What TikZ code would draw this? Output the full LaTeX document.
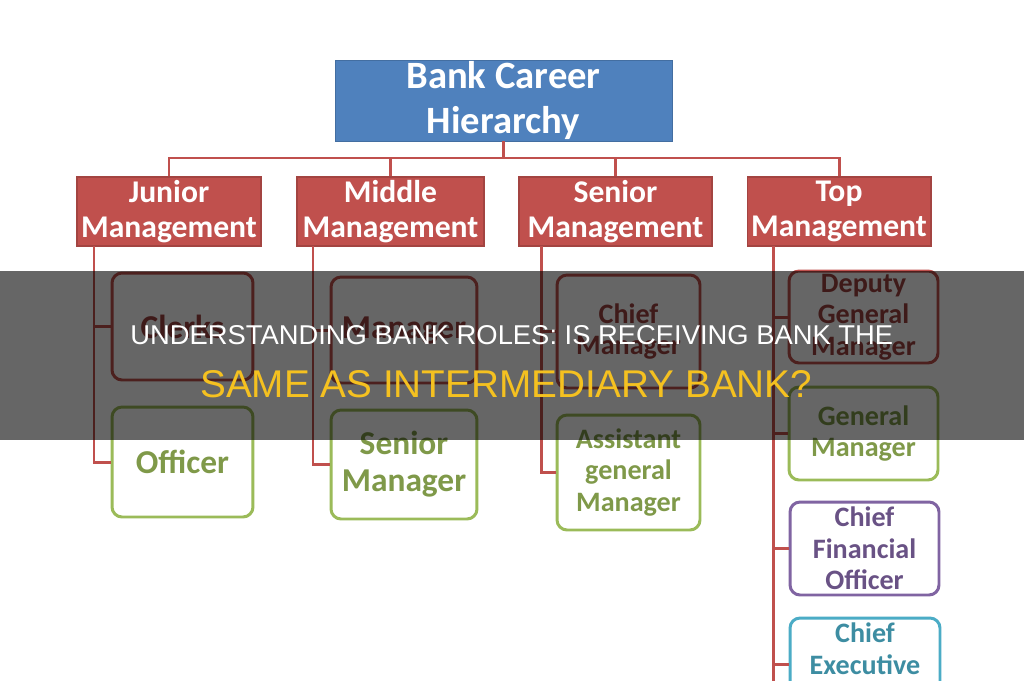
\documentclass[tikz,border=0pt]{standalone}
\usepackage{fontspec}
\setmainfont{Carlito}
\newfontfamily\bannerfont{Liberation Sans}
\usepackage{tikz}
\usetikzlibrary{positioning}
\definecolor{chartblue}{RGB}{79, 129, 189}
\definecolor{chartred}{RGB}{192, 80, 77}
\definecolor{leafgreen}{RGB}{155, 187, 89}
\definecolor{leafpurple}{RGB}{128, 100, 162}
\definecolor{leafteal}{RGB}{75, 172, 198}
\definecolor{bannergold}{RGB}{245, 193, 32}

\begin{document}
\begin{tikzpicture}[x=0.02cm, y=-0.02cm,
    link/.style={draw=chartred, line width=1.7pt},
    level/.style={fill=chartred, draw=chartred!85!black, line width=0.6pt, text=white,
        font=\fontsize{18}{20}\selectfont\bfseries, align=center, inner sep=0pt,
        minimum height=1.38cm},
    role/.style={draw=#1, text=#1!82!black, fill=white, line width=1.7pt,
        rounded corners=0.2cm, align=center, inner sep=0pt},
    bigrole/.style={font=\fontsize{19}{21}\selectfont\bfseries},
    smallrole/.style={font=\fontsize{16}{18}\selectfont\bfseries}]
    \clip (0,0) rectangle (1024,680);
    \fill[white] (0,0) rectangle (1024,680);

    % top of the tree
    \node[fill=chartblue, draw=chartblue!85!black, text=white, align=center, inner sep=0pt,
        font=\fontsize{22}{26}\selectfont\bfseries, minimum width=6.74cm, minimum height=1.62cm]
        (title) at (503.5,100.5) {Bank Career\\Hierarchy};
    \node[level, minimum width=3.68cm] (junior) at (169,211.5) {Junior\\Management};
    \node[level, minimum width=3.74cm] (middle) at (390.5,211.5) {Middle\\Management};
    \node[level, minimum width=3.86cm] (senior) at (615.5,211.5) {Senior\\Management};
    \node[level, minimum width=3.68cm] (top) at (839,211.5) {Top\\Management};
    \coordinate (bus) at (503.5,158);
    \draw[link] (title) -- (bus);
    \foreach \lvl in {junior, middle, senior, top} {
        \draw[link] (bus) -| (\lvl.north);
    }

    % roles under each level
    \node[role=chartred, bigrole, minimum width=2.82cm, minimum height=2.14cm]
        (clerks) at (182.5,326.5) {Clerks};
    \node[role=leafgreen, bigrole, minimum width=2.82cm, minimum height=2.2cm]
        (officer) at (182.5,462) {Officer};
    \node[role=chartred, bigrole, minimum width=2.92cm, minimum height=2.12cm]
        (manager) at (404,330) {Manager};
    \node[role=leafgreen, bigrole, minimum width=2.92cm, minimum height=2.18cm]
        (srmanager) at (404,464.5) {Senior\\Manager};
    \node[role=chartred, smallrole, minimum width=2.86cm, minimum height=2.26cm]
        (chiefmgr) at (628.5,331.5) {Chief\\Manager};
    \node[role=leafgreen, smallrole, minimum width=2.86cm, minimum height=2.3cm]
        (agm) at (628.5,472.5) {Assistant\\general\\Manager};
    \node[role=chartred, smallrole, minimum width=2.98cm, minimum height=1.84cm]
        (dgm) at (863.5,317) {Deputy\\General\\Manager};
    \node[role=leafgreen, smallrole, minimum width=2.98cm, minimum height=1.86cm]
        (gm) at (863.5,433.5) {General\\Manager};
    \node[role=leafpurple, smallrole, minimum width=2.98cm, minimum height=1.86cm]
        (cfo) at (864.5,548.5) {Chief\\Financial\\Officer};
    \node[role=leafteal, smallrole, minimum width=3cm, minimum height=1.86cm]
        (ceo) at (865,664.5) {Chief\\Executive\\\phantom{Officer}};

    \coordinate (jspine) at (94,246);
    \coordinate (mspine) at (313,246);
    \coordinate (sspine) at (541,246);
    \coordinate (tspine) at (773,246);
    \coordinate (tend) at (773,700);
    \draw[link] (jspine) |- (clerks.west);
    \draw[link] (jspine) |- (officer.west);
    \draw[link] (mspine) |- (manager.west);
    \draw[link] (mspine) |- (srmanager.west);
    \draw[link] (sspine) |- (chiefmgr.west);
    \draw[link] (sspine) |- (agm.west);
    \draw[link] (tspine) -- (tend);
    \foreach \role in {dgm, gm, cfo, ceo} {
        \draw[link] (tspine |- \role.west) -- (\role.west);
    }

    % banner
    \fill[black, opacity=0.6] (0,271) rectangle (1024,440);
    \node[anchor=base west, inner sep=0pt, text=white] (headline) at (130,344)
        {\resizebox{15.26cm}{0.38cm}{\bannerfont UNDERSTANDING BANK ROLES: IS RECEIVING BANK THE}};
    \node[anchor=base west, inner sep=0pt, text=bannergold] (subline) at (200,397)
        {\resizebox{12.24cm}{0.54cm}{\bannerfont SAME AS INTERMEDIARY BANK?}};
\end{tikzpicture}
\end{document}
